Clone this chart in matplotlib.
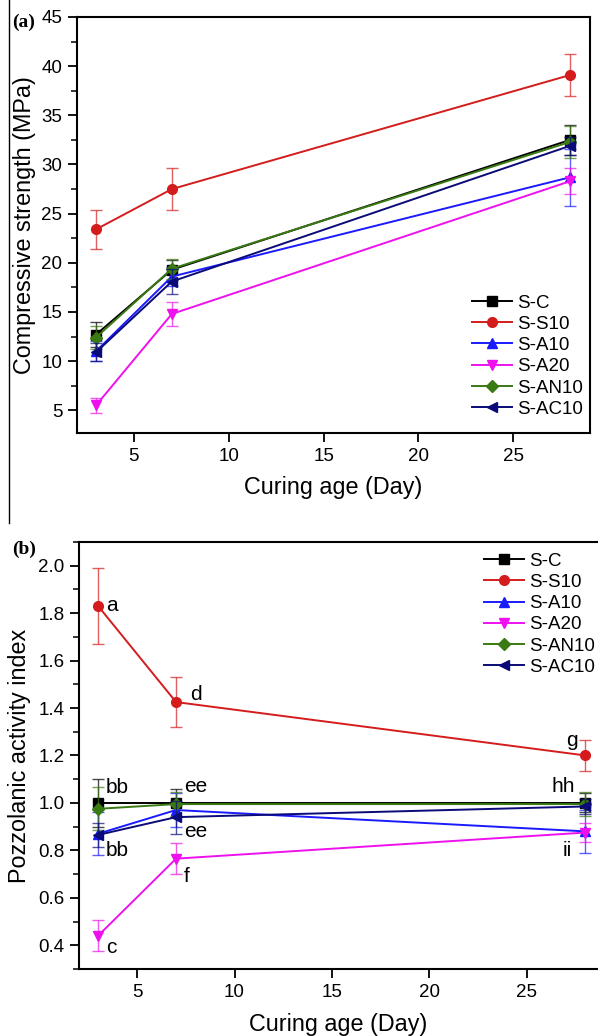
import numpy as np
import matplotlib
matplotlib.use("Agg")
import matplotlib.pyplot as plt
from matplotlib.lines import Line2D
from matplotlib.ticker import MultipleLocator

plt.rcParams['font.family'] = ['Liberation Sans', 'DejaVu Sans']

AGES = [3, 7, 28]
SERIES = ["S-C", "S-S10", "S-A10", "S-A20", "S-AN10", "S-AC10"]
COLORS = ["#000000", "#d41c1c", "#1a1aff", "#ee11ee", "#3a7a12", "#0a0a78"]
MARKERS = ["s", "o", "^", "v", "D", "<"]

# (a) compressive strength, MPa
STRENGTH = [
    [12.7, 19.3, 32.5],
    [23.4, 27.5, 39.1],
    [11.0, 18.6, 28.7],
    [5.5, 14.8, 28.3],
    [12.4, 19.4, 32.3],
    [10.9, 18.1, 31.9],
]
STRENGTH_ERR = [
    [1.3, 1.0, 1.5],
    [2.0, 2.1, 2.1],
    [1.0, 1.0, 2.9],
    [0.8, 1.2, 1.3],
    [1.2, 1.0, 1.6],
    [0.9, 1.3, 0.9],
]

# (b) pozzolanic activity index
INDEX = [
    [1.0, 1.0, 1.0],
    [1.83, 1.425, 1.20],
    [0.87, 0.97, 0.88],
    [0.44, 0.765, 0.875],
    [0.975, 0.995, 0.995],
    [0.865, 0.94, 0.985],
]
INDEX_ERR = [
    [0.10, 0.06, 0.04],
    [0.16, 0.105, 0.065],
    [0.09, 0.07, 0.09],
    [0.065, 0.065, 0.04],
    [0.09, 0.05, 0.05],
    [0.05, 0.07, 0.03],
]

# significance letters in panel (b)
LETTERS = ["a", "d", "g", "bb", "bb", "ee", "ee", "c", "f", "hh", "ii"]
LETTER_X = [3.41, 7.73, 27.62, 3.41, 3.41, 7.42, 7.42, 3.41, 7.37, 27.47, 27.32]
LETTER_Y = [1.83, 1.455, 1.265, 1.067, 0.80, 1.07, 0.878, 0.39, 0.69, 1.07, 0.80]
LETTER_HA = ["left", "left", "right", "left", "left", "left", "left", "left", "left", "right", "right"]


def draw_series(ax, values, errors):
    for name, col, mk, v, e in zip(SERIES, COLORS, MARKERS, values, errors):
        ax.errorbar(AGES, v, yerr=e, fmt='none', ecolor=col, alpha=0.7,
                    elinewidth=1.0, capsize=4, capthick=1.0)
        ax.plot(AGES, v, color=col, marker=mk, markersize=7 if mk != "D" else 6,
                linewidth=1.4, label=name)


def style_axes(ax):
    for s in ax.spines.values():
        s.set_linewidth(1.5)
    ax.tick_params(axis='both', which='major', direction='out', length=6.5,
                   width=1.3, labelsize=13.5, pad=4, top=False, right=False)
    ax.tick_params(axis='y', which='minor', direction='out', length=4, width=1.1)
    ax.tick_params(axis='x', which='minor', length=0)
    ax.xaxis.set_major_locator(MultipleLocator(5))


fig = plt.figure(figsize=(5.98, 10.36), dpi=100)

# panel (a)
ax1 = fig.add_axes([0.1288, 0.5821, 0.8579, 0.4015])
draw_series(ax1, STRENGTH, STRENGTH_ERR)
ax1.set_xlim(2.0, 29.05)
ax1.set_ylim(2.7, 45)
ax1.yaxis.set_major_locator(MultipleLocator(5))
ax1.yaxis.set_minor_locator(MultipleLocator(2.5))
style_axes(ax1)
ax1.set_yticks([5, 10, 15, 20, 25, 30, 35, 40, 45])
ax1.set_xlabel("Curing age (Day)", fontsize=16.8)
ax1.set_ylabel("Compressive strength (MPa)", fontsize=16.8)
ax1.yaxis.set_label_coords(-0.080, 0.5)
ax1.xaxis.set_label_coords(0.5, -0.104)
ax1.legend(loc='upper left', bbox_to_anchor=(0.770, 0.333), frameon=False,
           fontsize=13.5, borderpad=0, borderaxespad=0, labelspacing=0.22,
           handlelength=2.15, handletextpad=0.25)

# panel (b)
ax2 = fig.add_axes([0.1321, 0.0647, 0.8679, 0.4122])
draw_series(ax2, INDEX, INDEX_ERR)
ax2.set_xlim(2.02, 28.65)
ax2.set_ylim(0.3, 2.1)
ax2.yaxis.set_major_locator(MultipleLocator(0.2))
ax2.yaxis.set_minor_locator(MultipleLocator(0.1))
style_axes(ax2)
ax2.spines['right'].set_visible(False)
ax2.set_yticks(np.arange(0.4, 2.01, 0.2))
ax2.set_xlabel("Curing age (Day)", fontsize=16.8)
ax2.set_ylabel("Pozzolanic activity index", fontsize=16.8)
ax2.yaxis.set_label_coords(-0.092, 0.5)
ax2.xaxis.set_label_coords(0.5, -0.103)
ax2.legend(loc='upper left', bbox_to_anchor=(0.780, 0.975), frameon=False,
           fontsize=13.5, borderpad=0, borderaxespad=0, labelspacing=0.22,
           handlelength=2.15, handletextpad=0.25)
for t, x, y, ha in zip(LETTERS, LETTER_X, LETTER_Y, LETTER_HA):
    ax2.text(x, y, t, fontsize=15, ha=ha, va='center')

# panel tags and the frame line on the left
fig.text(0.020, 0.978, "(a)", family='Liberation Serif', weight='bold',
         fontsize=14, va='center', ha='left')
fig.text(0.020, 0.470, "(b)", family='Liberation Serif', weight='bold',
         fontsize=14, va='center', ha='left')
fig.add_artist(Line2D([0.0145, 0.0145], [1.0, 0.495], transform=fig.transFigure,
                      color='black', linewidth=1.0))

fig.savefig("out.png", dpi=100)
